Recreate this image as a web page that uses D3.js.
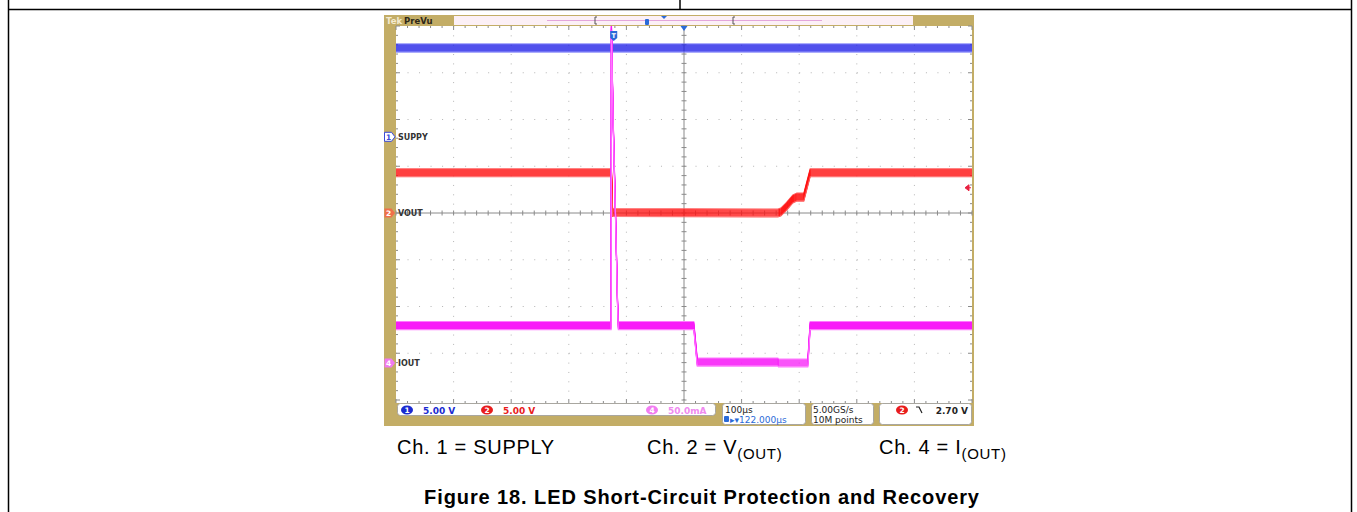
<!DOCTYPE html>
<html>
<head>
<meta charset="utf-8">
<script src="https://cdn.jsdelivr.net/npm/d3@7/dist/d3.min.js"></script>
<style>
  body { margin: 0; background: #fff; }
  svg { display: block; }
</style>
</head>
<body>
<svg width="1357" height="512"></svg>
<script>
// time in µs (0 = trigger), values in volts / mA
const supplyT = [-378, 622]
const supplyV = [9.5, 9.5]
const voutT = [-378, -4, -2, 285, 290, 300, 311, 318, 330, 341, 622]
const voutV = [4.3, 4.3, 0.05, 0, 0.1, 0.7, 1.5, 1.7, 1.7, 4.3, 4.3]
const ioutT = [-378, -4.5, -4, -1, 4, 6.5, 8, 139, 145, 285, 286, 337, 341, 622]
const ioutV = [40, 40, 360, 260, 135, 67, 40, 40, 1, 1, 0, 0, 40, 40]

const channels = [
  { name: 'SUPPY', id: '1', t: supplyT, v: supplyV, perDiv: 5, ground: 1.63, color: '#1818e6', edge: '#5a5cf8', half: 4 },
  { name: 'VOUT', id: '2', t: voutT, v: voutV, perDiv: 5, ground: 0, color: '#ff1414', edge: '#ff5a5a', half: 4 },
  { name: 'IOUT', id: '4', t: ioutT, v: ioutV, perDiv: 50, ground: -3.21, color: '#f81cf8', edge: '#ff78ff', half: 4 }
]
const triggerLevel = 2.7
const statusScale = [['1', '5.00 V'], ['2', '5.00 V'], ['4', '50.0mA']]
const statusTime = ['100µs', '122.000µs']
const statusRate = ['5.00GS/s', '10M points']
const captions = [['Ch. 1 = SUPPLY', ''], ['Ch. 2 = V', '(OUT)'], ['Ch. 4 = I', '(OUT)']]
const title = 'Figure 18. LED Short-Circuit Protection and Recovery'

const svg = d3.select('svg')
const tan = '#c3ad66'
const scopeFont = 'DejaVu Sans, sans-serif'
const pageFont = 'Liberation Sans, Arial, sans-serif'

// page table lines
svg.append('g').attr('stroke', '#000').attr('stroke-width', 1.5)
  .selectAll('line')
  .data([[8.5, 0, 8.5, 512], [1351.5, 0, 1351.5, 512], [8, 9.5, 1352, 9.5], [680, 0, 680, 9.5]])
  .join('line')
  .attr('x1', d => d[0]).attr('y1', d => d[1]).attr('x2', d => d[2]).attr('y2', d => d[3])

// scope frame
const pL = 396, pR = 972, pT = 26, pB = 400
const x = d3.scaleLinear().domain([-378, 622]).range([pL, pR])
const yDiv = d3.scaleLinear().domain([-4, 4]).range([pB, pT])
const xDiv = d3.scaleLinear().domain([-5, 5]).range([pL, pR])

svg.append('rect').attr('x', 384).attr('y', 15).attr('width', 590).attr('height', 411).attr('fill', tan)
svg.append('rect').attr('x', pL).attr('y', pT).attr('width', pR - pL).attr('height', 377).attr('fill', '#fff')

// top bar
svg.append('rect').attr('x', 454).attr('y', 16).attr('width', 459).attr('height', 9).attr('fill', '#fcf0f6')
svg.append('text').attr('x', 386).attr('y', 23.5).attr('font-family', scopeFont).attr('font-size', 8.5)
  .attr('font-weight', 'bold').attr('fill', '#f4ead0').text('Tek')
svg.append('text').attr('x', 404).attr('y', 23.5).attr('font-family', scopeFont).attr('font-size', 8.5)
  .attr('font-weight', 'bold').attr('fill', '#2e2818').text('PreVu')
svg.append('line').attr('x1', 547).attr('x2', 822).attr('y1', 20.5).attr('y2', 20.5).attr('stroke', '#e4a6dc').attr('stroke-width', 1)
svg.append('g').attr('stroke', '#555').attr('fill', 'none')
  .selectAll('path').data([595, 733]).join('path')
  .attr('d', d => `M${d},17V24M${d},17h2M${d},24h2`)
svg.append('rect').attr('x', 645).attr('y', 19).attr('width', 4).attr('height', 6).attr('rx', 1).attr('fill', '#2a6ad8')
svg.append('path').attr('d', 'M661,16h6l-3,3z').attr('fill', '#2a6ad8')

// graticule
const grid = svg.append('g')
grid.selectAll('.vg').data(d3.range(-4, 5).filter(d => d !== 0)).join('line')
  .attr('x1', d => xDiv(d)).attr('x2', d => xDiv(d)).attr('y1', pT).attr('y2', pB)
  .attr('stroke', '#b4b4b4').attr('stroke-dasharray', '1,8.35')
grid.selectAll('.hg').data(d3.range(-3, 4).filter(d => d !== 0)).join('line')
  .attr('x1', pL).attr('x2', pR).attr('y1', d => yDiv(d)).attr('y2', d => yDiv(d))
  .attr('stroke', '#b4b4b4').attr('stroke-dasharray', '1,10.52')

// centre axes with minor ticks
grid.append('line').attr('x1', xDiv(0)).attr('x2', xDiv(0)).attr('y1', pT).attr('y2', pB).attr('stroke', '#8a8a8a')
grid.append('line').attr('x1', pL).attr('x2', pR).attr('y1', yDiv(0)).attr('y2', yDiv(0)).attr('stroke', '#8a8a8a')
grid.selectAll('.xt').data(d3.range(-25, 26)).join('line')
  .attr('x1', d => xDiv(d / 5)).attr('x2', d => xDiv(d / 5))
  .attr('y1', yDiv(0) - 2.5).attr('y2', yDiv(0) + 2.5).attr('stroke', '#8a8a8a')
grid.selectAll('.yt').data(d3.range(-20, 21)).join('line')
  .attr('x1', xDiv(0) - 2.5).attr('x2', xDiv(0) + 2.5)
  .attr('y1', d => yDiv(d / 5)).attr('y2', d => yDiv(d / 5)).attr('stroke', '#8a8a8a')
// edge ticks
grid.selectAll('.et').data(d3.range(-25, 26)).join('path')
  .attr('d', d => `M${xDiv(d / 5)},${pT}v${d % 5 ? 2 : 4}M${xDiv(d / 5)},${pB + 3}v${d % 5 ? -2 : -4}`)
  .attr('stroke', '#8a8a8a')
grid.selectAll('.es').data(d3.range(-20, 21)).join('path')
  .attr('d', d => `M${pL},${yDiv(d / 5)}h${d % 5 ? 2 : 4}M${pR},${yDiv(d / 5)}h${d % 5 ? -2 : -4}`)
  .attr('stroke', '#8a8a8a')

// traces (thick in y only, like scope noise bands)
svg.append('clipPath').attr('id', 'plot').append('rect')
  .attr('x', pL).attr('y', pT).attr('width', pR - pL).attr('height', pB - pT + 3)
const traces = svg.append('g').attr('clip-path', 'url(#plot)')
channels.forEach(ch => {
  const y = v => yDiv(ch.ground + v / ch.perDiv)
  const line = d3.line().x(d => x(d[0])).y(d => y(d[1]))
  const pts = ch.t.map((t, i) => [t, ch.v[i]])
  const offs = d3.range(-ch.half, ch.half + 1)
  traces.append('g').selectAll('path').data(offs).join('path')
    .attr('d', line(pts))
    .attr('transform', o => `translate(0,${o})`)
    .attr('fill', 'none')
    .attr('stroke', o => Math.abs(o) >= ch.half ? ch.edge : ch.color)
    .attr('stroke-width', 1.1)
})

// trigger markers
svg.append('path').attr('d', `M${xDiv(0) - 3.5},${pT}h7l-3.5,5z`).attr('fill', '#2a6ad8')
const tx = x(0)
svg.append('path').attr('d', `M${tx - 3.5},${31}h7v7l-3.5,3l-3.5,-3z`).attr('fill', '#2a6ad8')
svg.append('text').attr('x', tx).attr('y', 37.5).attr('text-anchor', 'middle').attr('font-family', scopeFont)
  .attr('font-size', 6.5).attr('font-weight', 'bold').attr('fill', '#fff').text('T')
const ch2 = channels[1]
const ty = yDiv(ch2.ground + triggerLevel / ch2.perDiv)
svg.append('path').attr('d', `M${pR - 7},${ty}l4,-3v6z M${pR - 5},${ty}h4`).attr('fill', '#e82040').attr('stroke', '#e82040')

// channel ground markers
const mk = svg.append('g').selectAll('g').data(channels).join('g')
  .attr('transform', ch => `translate(384,${yDiv(ch.ground)})`)
mk.append('path').attr('d', 'M0.5,-4.5h7l3.5,4.5l-3.5,4.5h-7z')
  .attr('fill', (ch, i) => i === 0 ? '#fff' : i === 1 ? '#f0704a' : '#f07af0')
  .attr('stroke', (ch, i) => i === 0 ? '#3a4ad8' : 'none')
mk.append('text').attr('x', 4.5).attr('y', 3).attr('text-anchor', 'middle').attr('font-family', scopeFont)
  .attr('font-size', 7.5).attr('font-weight', 'bold')
  .attr('fill', (ch, i) => i === 0 ? '#3a4ad8' : '#fff').text(ch => ch.id)
mk.append('text').attr('x', 14).attr('y', 3).attr('font-family', scopeFont)
  .attr('font-size', 8).attr('font-weight', 'bold').attr('fill', '#333').text(ch => ch.name)

// status bar
const boxes = [[397, 715, 12], [722, 805, 21], [811, 873, 21], [879, 971, 21]]
svg.append('g').selectAll('rect').data(boxes).join('rect')
  .attr('x', d => d[0] + 0.5).attr('y', 403.5).attr('width', d => d[1] - d[0]).attr('height', d => d[2])
  .attr('rx', 3).attr('fill', '#fff').attr('stroke', '#9a9a9a').attr('stroke-width', 0.8)
const scaleCols = ['#1a2ad0', '#e81c1c', '#f27cf2']
const scaleX = [407, 487, 652]
statusScale.forEach(([id, val], i) => {
  svg.append('ellipse').attr('cx', scaleX[i]).attr('cy', 410).attr('rx', 6).attr('ry', 4.5).attr('fill', scaleCols[i])
  svg.append('text').attr('x', scaleX[i]).attr('y', 413).attr('text-anchor', 'middle').attr('font-family', scopeFont)
    .attr('font-size', 7.5).attr('font-weight', 'bold').attr('fill', '#fff').text(id)
  svg.append('text').attr('x', scaleX[i] + 16).attr('y', 413.5).attr('font-family', scopeFont)
    .attr('font-size', 9).attr('font-weight', 'bold').attr('fill', i === 2 ? '#f08af0' : scaleCols[i]).text(val)
})
svg.append('text').attr('x', 725).attr('y', 412.5).attr('font-family', scopeFont).attr('font-size', 9)
  .attr('fill', '#222').text(statusTime[0])
svg.append('rect').attr('x', 724).attr('y', 416).attr('width', 5).attr('height', 6).attr('rx', 1).attr('fill', '#2a6ad8')
svg.append('text').attr('x', 730).attr('y', 422.5).attr('font-family', scopeFont).attr('font-size', 9)
  .attr('fill', '#2a6ad8').text('▸▾' + statusTime[1])
statusRate.forEach((s, i) => {
  svg.append('text').attr('x', 813).attr('y', 412.5 + i * 10).attr('font-family', scopeFont).attr('font-size', 9)
    .attr('fill', '#222').text(s)
})
svg.append('ellipse').attr('cx', 902).attr('cy', 410).attr('rx', 6).attr('ry', 4.5).attr('fill', '#e81c1c')
svg.append('text').attr('x', 902).attr('y', 413).attr('text-anchor', 'middle').attr('font-family', scopeFont)
  .attr('font-size', 7.5).attr('font-weight', 'bold').attr('fill', '#fff').text('2')
svg.append('path').attr('d', 'M916,407l3,0l3,6').attr('fill', 'none').attr('stroke', '#222').attr('stroke-width', 1.2)
svg.append('text').attr('x', 968).attr('y', 413.5).attr('text-anchor', 'end').attr('font-family', scopeFont)
  .attr('font-size', 9).attr('font-weight', 'bold').attr('fill', '#222').text(triggerLevel.toFixed(2) + ' V')

// captions
const capX = [397, 647, 879]
captions.forEach(([main, sub], i) => {
  const t = svg.append('text').attr('x', capX[i]).attr('y', 454)
    .attr('font-family', pageFont).attr('font-size', 20).attr('letter-spacing', 0.7).attr('fill', '#000')
  t.append('tspan').text(main)
  if (sub) t.append('tspan').attr('dy', 5).attr('font-size', 15).text(sub)
})
svg.append('text').attr('x', 702).attr('y', 504).attr('text-anchor', 'middle')
  .attr('font-family', pageFont).attr('font-size', 20).attr('font-weight', 'bold').attr('letter-spacing', 0.9)
  .attr('fill', '#000').text(title)
</script>
</body>
</html>
